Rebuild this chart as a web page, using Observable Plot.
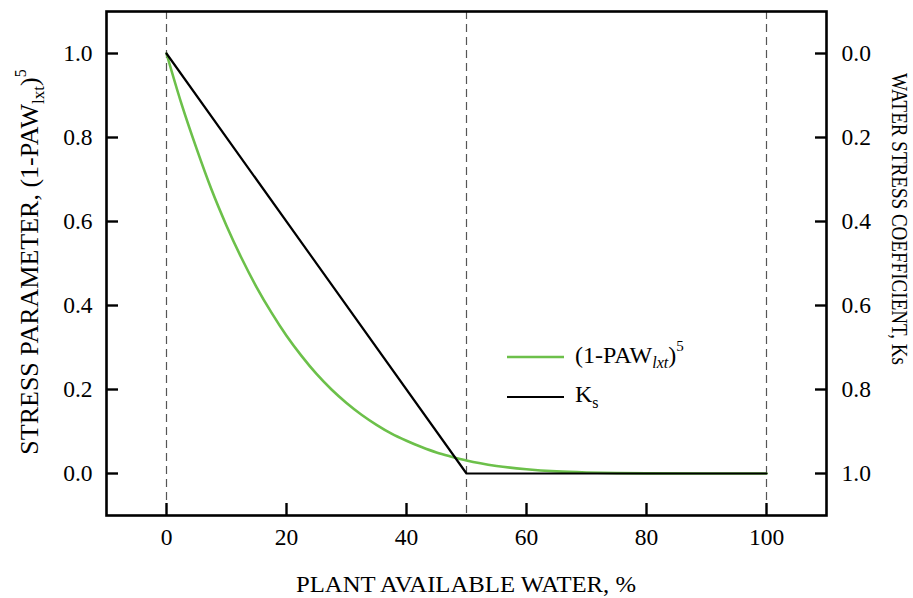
<!DOCTYPE html>
<html>
<head>
<meta charset="utf-8">
<script src="https://cdn.jsdelivr.net/npm/d3@7"></script>
<script src="https://cdn.jsdelivr.net/npm/@observablehq/plot@0.6"></script>
<style>
  body { margin: 0; background: #fff; }
  #chart { width: 913px; height: 598px; }
</style>
</head>
<body>
<div id="chart"></div>
<script>
// Plant available water (%) and the stress parameter (1-PAW_lxt)^5
const paw = [0, 2.5, 5, 7.5, 10, 12.5, 15, 17.5, 20, 22.5, 25, 27.5, 30, 32.5, 35, 37.5, 40, 42.5, 45, 47.5, 50, 55, 60, 65, 70, 75, 80, 90, 100];
const stressParam = [1.0, 0.88, 0.774, 0.676, 0.59, 0.513, 0.444, 0.383, 0.328, 0.28, 0.237, 0.2, 0.168, 0.14, 0.116, 0.095, 0.078, 0.063, 0.05, 0.04, 0.031, 0.018, 0.010, 0.005, 0.0024, 0.001, 0.0003, 0, 0];

// Water stress coefficient Ks (right axis, increasing downward)
const ksPaw = [0, 50, 100];
const ks = [0, 1, 1];

// Reference lines and tick values
const thresholds = [0, 50, 100];
const xTicks = [0, 20, 40, 60, 80, 100];
const yTicks = [0, 0.2, 0.4, 0.6, 0.8, 1.0];
const ksTicks = [0, 0.2, 0.4, 0.6, 0.8, 1.0];

const stressData = paw.map((p, i) => ({paw: p, value: stressParam[i]}));
const ksData = ksPaw.map((p, i) => ({paw: p, ks: ks[i]}));

const green = "#6cc04a";
const font = "Liberation Serif, Times New Roman, serif";

const plot = Plot.plot({
  width: 913,
  height: 598,
  marginTop: 11,
  marginRight: 87,
  marginBottom: 83,
  marginLeft: 106,
  style: {fontFamily: font, fontSize: "23.5px", color: "#000", background: "#fff"},
  x: {domain: [-10, 110]},
  y: {domain: [-0.1, 1.1]},
  marks: [
    Plot.ruleX(thresholds, {stroke: "#555", strokeWidth: 1.2, strokeDasharray: "8,5"}),
    Plot.line(stressData, {x: "paw", y: "value", stroke: green, strokeWidth: 2.6, curve: "monotone-x"}),
    Plot.line(ksData, {x: "paw", y: d => 1 - d.ks, stroke: "#000", strokeWidth: 2.2}),
    Plot.frame({stroke: "#000", strokeWidth: 2.6}),
    // inward tick marks
    Plot.axisX(xTicks, {tickSize: -12, strokeWidth: 2.4, fill: "none", label: null}),
    Plot.axisY(yTicks, {tickSize: -12, strokeWidth: 2.4, fill: "none", label: null}),
    Plot.axisY(ksTicks.map(k => 1 - k), {anchor: "right", tickSize: -12, strokeWidth: 2.4, fill: "none", label: null}),
    // tick labels
    Plot.axisX(xTicks, {tickSize: 0, tickPadding: 13, stroke: "none", label: null, tickFormat: d => d}),
    Plot.axisY(yTicks, {tickSize: 0, tickPadding: 14, stroke: "none", label: null, tickFormat: d => d.toFixed(1)}),
    Plot.axisY(ksTicks.map(k => 1 - k), {anchor: "right", tickSize: 0, tickPadding: 15, stroke: "none", label: null, tickFormat: d => (1 - d).toFixed(1)})
  ]
});

document.getElementById("chart").appendChild(plot);

const svg = d3.select(plot);
const g = svg.append("g")
  .attr("font-family", font)
  .attr("fill", "#000")
  .attr("text-anchor", "start");

// x axis title
g.append("text")
  .attr("x", 466).attr("y", 592)
  .attr("text-anchor", "middle")
  .attr("font-size", 24)
  .attr("textLength", 340)
  .attr("lengthAdjust", "spacingAndGlyphs")
  .text("PLANT AVAILABLE WATER, %");

// left axis title
const left = g.append("text")
  .attr("transform", "translate(38,262) rotate(-90)")
  .attr("text-anchor", "middle")
  .attr("font-size", 26);
left.append("tspan").text("STRESS PARAMETER, (1-PAW");
left.append("tspan").attr("font-size", 17).attr("dy", 6).text("lxt");
left.append("tspan").attr("dy", -6).text(")");
left.append("tspan").attr("font-size", 16).attr("dy", -12).text("5");

// right axis title
g.append("text")
  .attr("transform", "translate(892,219) rotate(90)")
  .attr("text-anchor", "middle")
  .attr("font-size", 23)
  .attr("textLength", 292)
  .attr("lengthAdjust", "spacingAndGlyphs")
  .text("WATER STRESS COEFFICIENT, Ks");

// legend
g.append("line").attr("x1", 507).attr("x2", 564).attr("y1", 357).attr("y2", 357)
  .attr("stroke", green).attr("stroke-width", 2.6);
g.append("line").attr("x1", 507).attr("x2", 564).attr("y1", 397).attr("y2", 397)
  .attr("stroke", "#000").attr("stroke-width", 2.2);

const l1 = g.append("text").attr("x", 575).attr("y", 363).attr("font-size", 24);
l1.append("tspan").text("(1-PAW");
l1.append("tspan").attr("font-size", 16).attr("font-style", "italic").attr("dy", 5).text("lxt");
l1.append("tspan").attr("dy", -5).text(")");
l1.append("tspan").attr("font-size", 15).attr("dy", -12).text("5");

const l2 = g.append("text").attr("x", 575).attr("y", 402).attr("font-size", 24);
l2.append("tspan").text("K");
l2.append("tspan").attr("font-size", 16).attr("dy", 6).text("s");
</script>
</body>
</html>
